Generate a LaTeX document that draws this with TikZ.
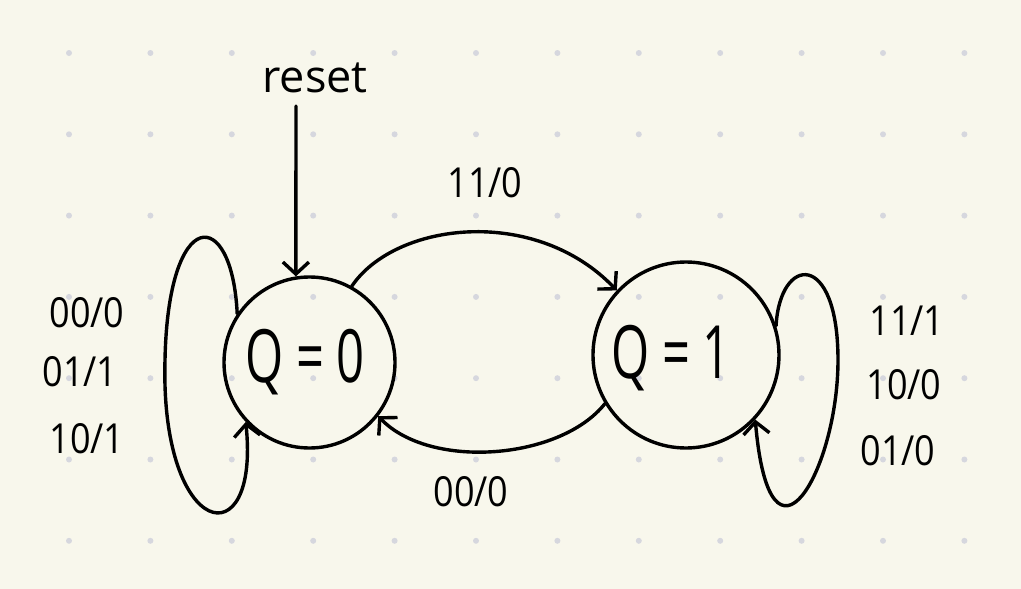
\documentclass[tikz,border=0pt]{standalone}
\usepackage{graphicx}
\usepackage{fontspec}
\setmainfont{Open Sans}
\usetikzlibrary{arrows.meta}
\definecolor{paper}{RGB}{248,247,236}
\definecolor{griddot}{RGB}{214,215,222}
\begin{document}
\begin{tikzpicture}[x=1pt,y=-1pt,
  state/.style={circle,draw,line width=3.4pt,inner sep=0pt},
  edge/.style={line width=3.4pt,line cap=round,line join=round,
    -{Straight Barb[length=12pt,width=26pt,line width=3.4pt]}},
  lbl/.style={font=\fontsize{36}{36}\selectfont,inner sep=0pt},
  qtext/.style={font=\fontsize{49}{49}\selectfont,inner sep=0pt}]
\fill[paper] (0,0) rectangle (1021,589);
\useasboundingbox (0,0) rectangle (1021,589);
\foreach \i in {0,...,11} \foreach \j in {0,...,6}
  \fill[griddot] ({69+81.4*\i},{53+81.3*\j}) circle (3pt);
% states
\node[state,minimum size=171pt] (q0) at (309.5,362.5) {};
\node[state,minimum size=186pt] (q1) at (686,355) {};
\node[qtext] (t0) at (305,362) {\scalebox{1}[1.5]{Q = 0}};
\node[qtext] (t1) at (671,358) {\scalebox{1}[1.5]{Q = 1}};
% reset
\node[font=\fontsize{45}{45}\selectfont,inner sep=0pt] (reset) at (315,78) {reset};
\coordinate (rs) at (296,106);
\draw[edge] (rs) -- (q0.99);
% transitions
\draw[edge] (q0.61) .. controls (395,222) and (535,205) .. (q1.137);
\draw[edge] (q1.211) .. controls (560,460) and (430,470) .. (q0.-38);
\draw[edge] (q0.146) .. controls (232,205) and (168,205) .. (165,360)
  .. controls (160,540) and (260,560) .. (q0.-137);
\draw[edge] (q1.18.6) .. controls (780,255) and (838,250) .. (838,360)
  .. controls (838,470) and (770,590) .. (q1.-43);
% labels
\node[lbl] (l11a) at (485,183) {\scalebox{1}[1.15]{11/0}};
\node[lbl] (l00b) at (471,492) {\scalebox{1}[1.15]{00/0}};
\node[lbl] (la1) at (87,313) {\scalebox{1}[1.15]{00/0}};
\node[lbl] (la2) at (80,372) {\scalebox{1}[1.15]{01/1}};
\node[lbl] (la3) at (87,439) {\scalebox{1}[1.15]{10/1}};
\node[lbl] (lb1) at (907,321) {\scalebox{1}[1.15]{11/1}};
\node[lbl] (lb2) at (904,385) {\scalebox{1}[1.15]{10/0}};
\node[lbl] (lb3) at (898,451) {\scalebox{1}[1.15]{01/0}};
\end{tikzpicture}
\end{document}
